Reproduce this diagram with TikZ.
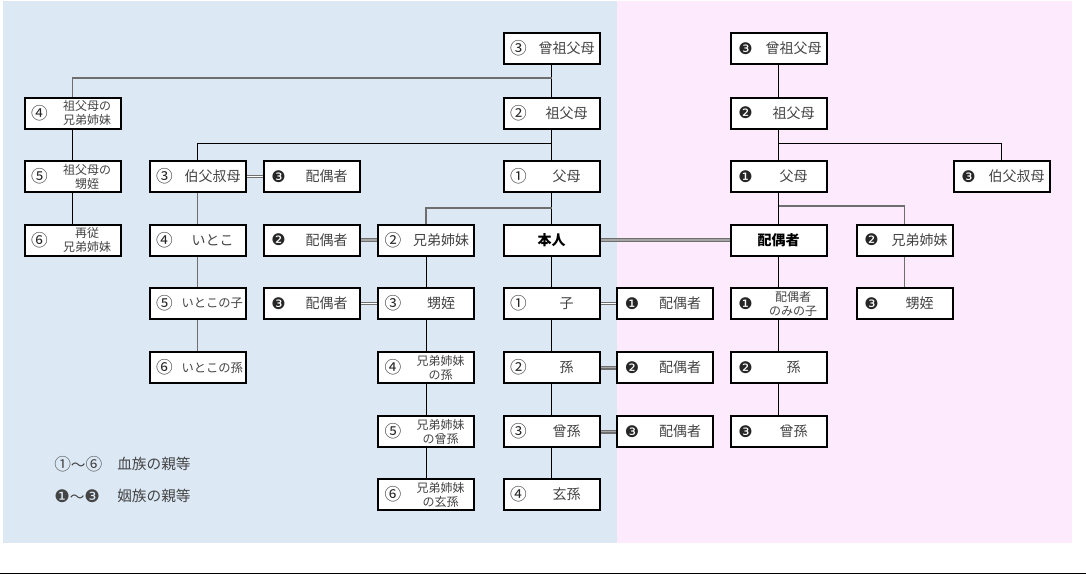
\documentclass[tikz,border=0pt]{standalone}
\usepackage{fontspec}
\newfontfamily\jp{Noto Sans CJK JP}
\newfontfamily\djv{DejaVu Sans}
\definecolor{bgblue}{HTML}{DCE9F5}
\definecolor{bgpink}{HTML}{FDEBFD}
\definecolor{txtgray}{HTML}{444444}
\definecolor{lngray}{HTML}{6E6E6E}
\tikzset{
  box/.style={draw=black, line width=1.5pt, fill=white, minimum width=72pt, minimum height=23.25pt, inner sep=0pt},
  num/.style={font=\jp\fontsize{12.5}{13}\selectfont, text=black!85, inner sep=0pt},
  lbl/.style={font=\jp\fontsize{10.5}{12}\selectfont, text=txtgray, inner sep=0pt, align=center},
  lblsm/.style={font=\jp\fontsize{9.2}{11}\selectfont, text=txtgray, inner sep=0pt, align=center},
  lbltwo/.style={font=\jp\fontsize{9}{10.5}\selectfont, text=txtgray, inner sep=0pt, align=center},
  mainlbl/.style={font=\jp\bfseries\fontsize{10.5}{12}\selectfont, text=black},
  leg/.style={font=\jp\fontsize{11}{13}\selectfont, text=txtgray, inner sep=0pt},
  conn/.style={draw=black, line width=0.75pt},
  connB/.style={draw=black, line width=1.4pt},
  connG/.style={draw=lngray, line width=1.3pt},
  dbl/.style={draw=lngray, line width=0.7pt, double=white, double distance=1.3pt},
  dblG/.style={draw=lngray, line width=0.8pt, double=gray!70, double distance=1.4pt},
}
\newcommand{\kin}[5]{%
  \node[box] (#1) at (#2,#3) {};
  \node[num] (#1n) at ([xshift=12pt]#1.west) {#4};
  \node[lbl] (#1l) at ([xshift=11.25pt]#1.center) {#5};
}
\newcommand{\kinsm}[5]{%
  \node[box] (#1) at (#2,#3) {};
  \node[num] (#1n) at ([xshift=12pt]#1.west) {#4};
  \node[lblsm] (#1l) at ([xshift=11pt]#1.center) {#5};
}
\newcommand{\kintwo}[5]{%
  \node[box] (#1) at (#2,#3) {};
  \node[num] (#1n) at ([xshift=12pt]#1.west) {#4};
  \node[lbltwo] (#1l) at ([xshift=11pt]#1.center) {#5};
}
\newcommand{\bn}[1]{{\djv\fontsize{12}{12}\selectfont #1}}
\begin{document}
\begin{tikzpicture}[x=0.75pt, y=-0.75pt]
\useasboundingbox (0,0) rectangle (1086,575);
% backgrounds
\fill[bgblue] (3,1) rectangle (617,543);
\fill[bgpink] (617,1) rectangle (1072,543);
\draw[line width=1.2pt] (0,573.5) -- (1086,573.5);

% column 1
\kintwo{a4}{72.5}{113}{④}{祖父母の\\兄弟姉妹}
\kintwo{a5}{72.5}{176.5}{⑤}{祖父母の\\甥姪}
\kintwo{a6}{72.5}{240}{⑥}{再従\\兄弟姉妹}
% column 2
\kin{b3}{197.5}{176.5}{③}{伯父叔母}
\kin{b4}{197.5}{240}{④}{いとこ}
\kinsm{b5}{197.5}{303.5}{⑤}{いとこの子}
\kinsm{b6}{197.5}{367.5}{⑥}{いとこの孫}
% column 3
\kin{us}{311.5}{176.5}{\bn{❸}}{配偶者}
\kin{ss}{311.5}{240}{\bn{❷}}{配偶者}
\kin{ns}{311.5}{303.5}{\bn{❸}}{配偶者}
% column 4
\kin{sib}{426}{240}{②}{兄弟姉妹}
\kin{nep}{426}{303.5}{③}{甥姪}
\kintwo{sibg}{426}{367.5}{④}{兄弟姉妹\\の孫}
\kintwo{sibgg}{426}{431.5}{⑤}{兄弟姉妹\\の曾孫}
\kintwo{sibggg}{426}{494.5}{⑥}{兄弟姉妹\\の玄孫}
% column 5
\kin{gg}{551.5}{48.5}{③}{曾祖父母}
\kin{g}{551.5}{113}{②}{祖父母}
\kin{p}{551.5}{176.5}{①}{父母}
\node[box, mainlbl] (self) at (551.5,240) {本人};
\kin{c1}{551.5}{303.5}{①}{子}
\kin{c2}{551.5}{367.5}{②}{孫}
\kin{c3}{551.5}{431.5}{③}{曾孫}
\kin{c4}{551.5}{494.5}{④}{玄孫}
% column 6
\kin{c1s}{665}{303.5}{\bn{❶}}{配偶者}
\kin{c2s}{665}{367.5}{\bn{❷}}{配偶者}
\kin{c3s}{665}{431.5}{\bn{❸}}{配偶者}
% column 7
\kin{sgg}{778.5}{48.5}{\bn{❸}}{曾祖父母}
\kin{sg}{778.5}{113}{\bn{❷}}{祖父母}
\kin{sp}{778.5}{176.5}{\bn{❶}}{父母}
\node[box, mainlbl] (spouse) at (778.5,240) {配偶者};
\kintwo{sc1}{778.5}{303.5}{\bn{❶}}{配偶者\\のみの子}
\kin{sc2}{778.5}{367.5}{\bn{❷}}{孫}
\kin{sc3}{778.5}{431.5}{\bn{❸}}{曾孫}
% column 8, 9
\kin{ssib}{904.5}{240}{\bn{❷}}{兄弟姉妹}
\kin{snep}{904.5}{303.5}{\bn{❸}}{甥姪}
\kin{suncle}{1001.5}{176.5}{\bn{❸}}{伯父叔母}

% junction coordinates
\coordinate (j1) at (551.5,78);
\coordinate (j2) at (551.5,143);
\coordinate (j3) at (551.5,208);
\coordinate (j4) at (778.5,143);
\coordinate (j5) at (778.5,206);

% connectors blood side
\draw[connB] (gg) -- (g);
\draw[connB] (g) -- (p);
\draw[connB] (p) -- (self);
\draw[connB] (self) -- (c1);
\draw[connB] (c1) -- (c2);
\draw[connB] (c2) -- (c3);
\draw[connB] (c3) -- (c4);
\draw[connG] (j1) -| (a4.north);
\draw[conn] (a4) -- (a5);
\draw[conn] (a5) -- (a6);
\draw[conn] (j2) -| (b3.north);
\draw[connG] (b3) -- (b4);
\draw[connG] (b4) -- (b5);
\draw[connG] (b5) -- (b6);
\draw[connG] (j3) -| (sib.north);
\draw[conn] (sib) -- (nep);
\draw[conn] (nep) -- (sibg);
\draw[conn] (sibg) -- (sibgg);
\draw[conn] (sibgg) -- (sibggg);
% connectors affinity side
\draw[conn] (sgg) -- (sg);
\draw[conn] (sg) -- (sp);
\draw[conn] (sp) -- (spouse);
\draw[conn] (spouse) -- (sc1);
\draw[conn] (sc1) -- (sc2);
\draw[conn] (sc2) -- (sc3);
\draw[conn] (j4) -| (suncle.north);
\draw[connG] (j5) -| (ssib.north);
\draw[connG] (ssib) -- (snep);
% marriage links
\draw[dbl] (b3) -- (us);
\draw[dblG] (ss) -- (sib);
\draw[dbl] (ns) -- (nep);
\draw[dblG] (self) -- (spouse);
\draw[dbl] (c1) -- (c1s);
\draw[dblG] (c2) -- (c2s);
\draw[dblG] (c3) -- (c3s);

% legend
\node[leg, anchor=west] (l1n) at (54,464) {{\fontsize{12.5}{13}\selectfont ①}〜{\fontsize{12.5}{13}\selectfont ⑥}};
\node[leg, anchor=west] (l1t) at (117,464) {血族の親等};
\node[leg, anchor=west] (l2n) at (54,496) {{\djv\fontsize{13}{13}\selectfont ❶}〜{\djv\fontsize{13}{13}\selectfont ❸}};
\node[leg, anchor=west] (l2t) at (117,496) {姻族の親等};
\end{tikzpicture}
\end{document}
